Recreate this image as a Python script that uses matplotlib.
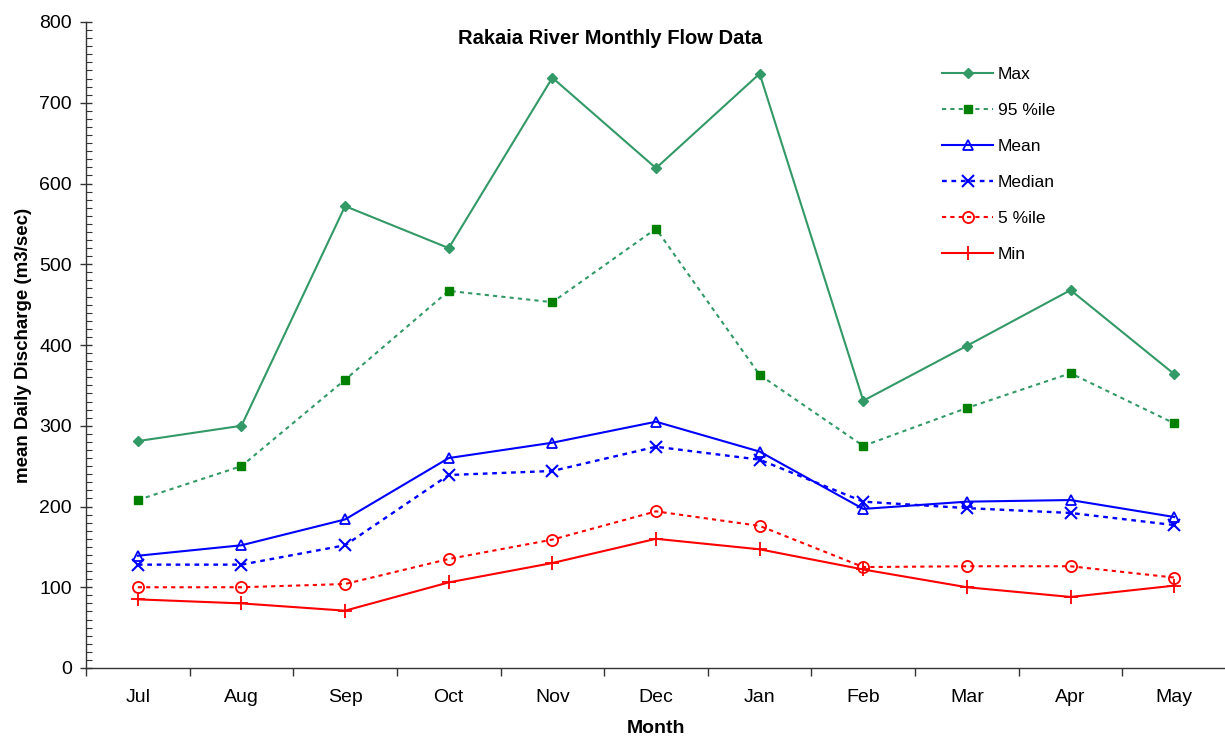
import matplotlib
matplotlib.use("Agg")
import matplotlib.pyplot as plt
from matplotlib.ticker import MultipleLocator, FixedLocator, NullFormatter

plt.rcParams['font.family'] = ['Liberation Sans', 'DejaVu Sans']

months = ["Jul", "Aug", "Sep", "Oct", "Nov", "Dec", "Jan", "Feb", "Mar", "Apr", "May"]
max_flow = [281, 300, 572, 520, 731, 619, 736, 331, 399, 468, 364]
p95_flow = [208, 250, 357, 467, 453, 544, 363, 275, 322, 365, 303]
mean_flow = [139, 152, 184, 260, 279, 305, 268, 197, 206, 208, 187]
median_flow = [128, 128, 152, 239, 244, 274, 258, 206, 198, 192, 177]
p5_flow = [100, 100, 104, 135, 159, 194, 176, 125, 126, 126, 112]
min_flow = [85, 80, 71, 106, 130, 160, 147, 122, 100, 88, 102]

W, H = 1225, 738
fig = plt.figure(figsize=(W / 100, H / 100), dpi=100)
ax = fig.add_axes([86 / W, 1 - 668 / H, (1226 - 86) / W, (668 - 22) / H])

x = list(range(len(months)))
dot = (0, (2, 2))
ax.plot(x, max_flow, color='#339966', lw=1.5, marker='D', ms=5,
        mfc='#339966', mec='#339966', label='Max')
ax.plot(x, p95_flow, color='#339966', lw=1.5, ls=dot, marker='s', ms=6,
        mfc='#008000', mec='#008000', label='95 %ile')
ax.plot(x, mean_flow, color='#0000ff', lw=1.5, marker='^', ms=7,
        mfc='none', mec='#0000ff', mew=1.3, label='Mean')
ax.plot(x, median_flow, color='#0000ff', lw=1.7, ls=dot, marker='x', ms=8,
        mec='#0000ff', mew=1.5, label='Median')
ax.plot(x, p5_flow, color='#ff0000', lw=1.5, ls=dot, marker='o', ms=8,
        mfc='none', mec='#ff0000', mew=1.3, label='5 %ile')
ax.plot(x, min_flow, color='#ff0000', lw=1.5, marker='+', ms=10,
        mec='#ff0000', mew=1.3, label='Min')

ax.set_xlim(-0.5, len(months) - 0.5)
ax.set_ylim(0, 800)

ax.spines['top'].set_visible(False)
ax.spines['right'].set_visible(False)
for s in ('left', 'bottom'):
    ax.spines[s].set_color('#333333')
    ax.spines[s].set_linewidth(1.0)

ax.yaxis.set_major_locator(MultipleLocator(100))
ax.yaxis.set_minor_locator(MultipleLocator(10))
ax.tick_params(axis='y', which='major', direction='inout', length=8, width=1,
               labelsize=14, pad=6, color='#333333')
ax.tick_params(axis='y', which='minor', direction='in', length=4, width=0.8,
               color='#333333')

ax.xaxis.set_major_locator(FixedLocator([i - 0.5 for i in range(len(months) + 1)]))
ax.xaxis.set_major_formatter(NullFormatter())
ax.xaxis.set_minor_locator(FixedLocator(x))
ax.set_xticks(x, months, minor=True)
ax.tick_params(axis='x', which='major', direction='out', length=6, width=1,
               color='#333333')
ax.tick_params(axis='x', which='minor', length=0, labelsize=14, pad=15)

ax.set_xlabel('Month', fontsize=14, fontweight='bold', labelpad=10)
ax.set_ylabel('mean Daily Discharge (m3/sec)', fontsize=13.5, fontweight='bold',
              labelpad=5)

fig.text(610 / W, 1 - 38 / H, 'Rakaia River Monthly Flow Data', ha='center',
         va='center', fontsize=14.5, fontweight='bold')

ax.legend(loc='upper left', bbox_to_anchor=(942 / W, 1 - 67 / H),
          bbox_transform=fig.transFigure, frameon=False, fontsize=12.5,
          handlelength=2.95, handletextpad=0.25, labelspacing=1.2,
          borderpad=0, borderaxespad=0)

fig.savefig('out.png', dpi=100)
